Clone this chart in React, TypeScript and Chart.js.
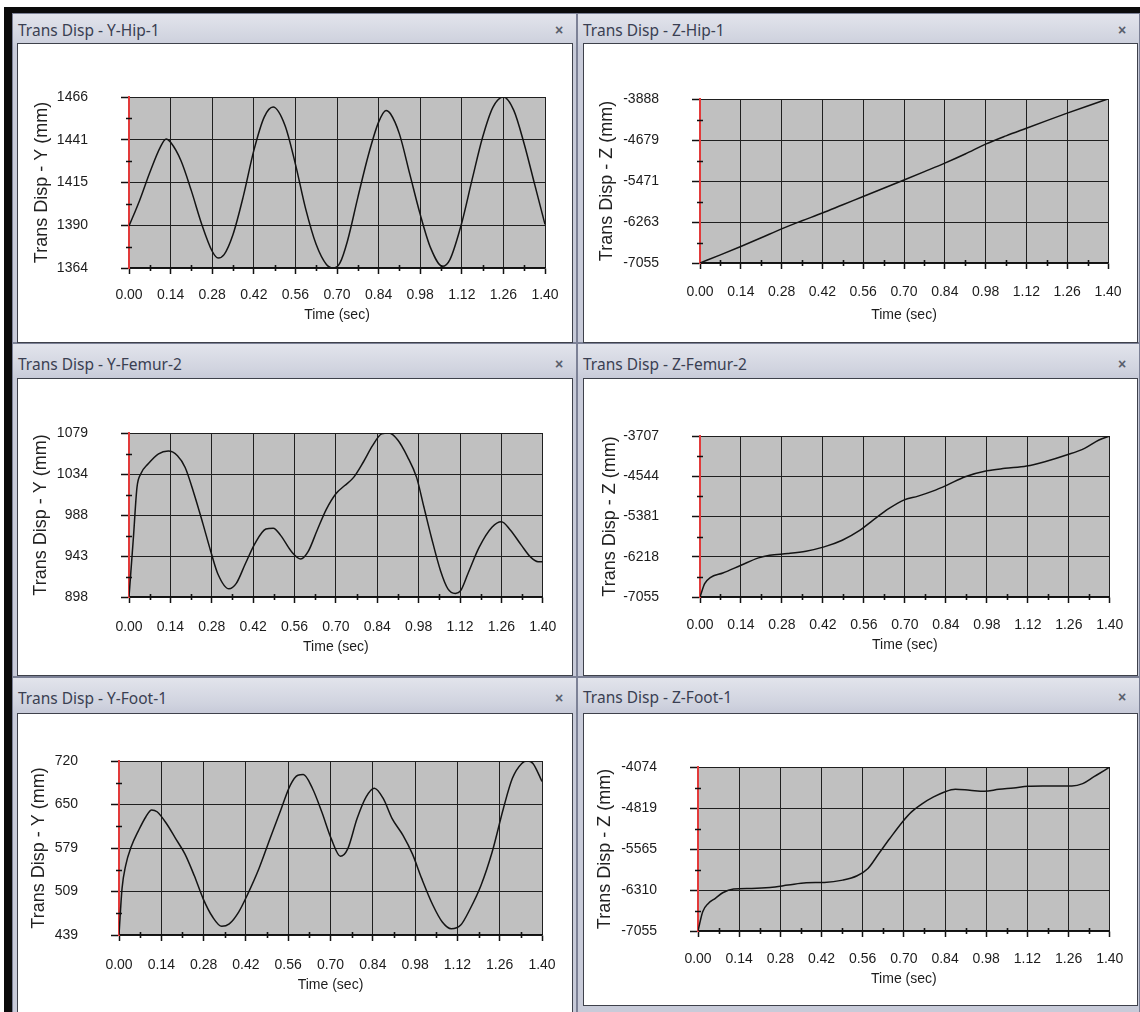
import React, { useEffect, useRef } from 'react';
import { Chart, registerables } from 'chart.js';

Chart.register(...registerables);

// ---------- shared axis data ----------
const xTickLabels = ['0.00', '0.14', '0.28', '0.42', '0.56', '0.70', '0.84', '0.98', '1.12', '1.26', '1.40'];
const xTickValues = xTickLabels.map(Number);
const timeTitle = 'Time (sec)';

// ---------- Y-Hip-1 ----------
const yHipTitle = 'Trans Disp - Y-Hip-1';
const yHipAxisTitle = 'Trans Disp - Y (mm)';
const yHipRange = [1364, 1466];
const yHipTicks = ['1364', '1390', '1415', '1441', '1466'];
const yHipTimes = [0, 0.035, 0.07, 0.105, 0.125, 0.14, 0.175, 0.21, 0.245, 0.28, 0.3, 0.32, 0.35, 0.385, 0.42, 0.455, 0.485, 0.525, 0.56, 0.595, 0.63, 0.665, 0.69, 0.71, 0.735, 0.77, 0.805, 0.84, 0.865, 0.88, 0.91, 0.945, 0.98, 1.015, 1.055, 1.08, 1.12, 1.155, 1.19, 1.225, 1.26, 1.295, 1.33, 1.365, 1.4];
const yHipValues = [1389, 1404, 1421, 1436, 1441, 1439, 1428, 1410, 1390, 1374, 1370, 1372, 1384, 1407, 1434, 1454, 1460, 1449, 1426, 1399, 1378, 1366, 1364, 1367, 1380, 1406, 1431, 1451, 1458, 1456, 1444, 1420, 1396, 1376, 1365, 1369, 1391, 1417, 1442, 1460, 1466, 1458, 1438, 1414, 1390];

// ---------- Z-Hip-1 ----------
const zHipTitle = 'Trans Disp - Z-Hip-1';
const zHipAxisTitle = 'Trans Disp - Z (mm)';
const zHipRange = [-7055, -3888];
const zHipTicks = ['-7055', '-6263', '-5471', '-4679', '-3888'];
const zHipTimes = [0, 0.07, 0.14, 0.21, 0.28, 0.35, 0.42, 0.49, 0.56, 0.63, 0.7, 0.77, 0.84, 0.91, 0.98, 1.05, 1.12, 1.19, 1.26, 1.33, 1.4];
const zHipValues = [-7055, -6898, -6737, -6568, -6395, -6240, -6090, -5930, -5772, -5612, -5452, -5290, -5126, -4950, -4760, -4600, -4452, -4305, -4160, -4022, -3888];

// ---------- Y-Femur-2 ----------
const yFemurTitle = 'Trans Disp - Y-Femur-2';
const yFemurAxisTitle = 'Trans Disp - Y (mm)';
const yFemurRange = [898, 1079];
const yFemurTicks = ['898', '943', '988', '1034', '1079'];
const yFemurTimes = [0, 0.015, 0.027, 0.04, 0.065, 0.1, 0.133, 0.164, 0.19, 0.22, 0.25, 0.276, 0.3, 0.338, 0.363, 0.394, 0.426, 0.463, 0.488, 0.513, 0.55, 0.581, 0.606, 0.637, 0.668, 0.7, 0.73, 0.76, 0.793, 0.824, 0.855, 0.88, 0.91, 0.942, 0.973, 0.998, 1.023, 1.054, 1.079, 1.104, 1.122, 1.147, 1.185, 1.228, 1.26, 1.29, 1.328, 1.359, 1.384, 1.4];
const yFemurValues = [898, 964, 1019, 1034, 1045, 1056, 1059, 1054, 1041, 1012, 979, 949, 924, 907, 913, 935, 957, 973, 974, 966, 948, 940, 948, 972, 995, 1012, 1021, 1030, 1047, 1065, 1078, 1079, 1071, 1053, 1030, 997, 964, 927, 907, 902, 905, 924, 953, 975, 981, 972, 955, 942, 937, 937];

// ---------- Z-Femur-2 ----------
const zFemurTitle = 'Trans Disp - Z-Femur-2';
const zFemurAxisTitle = 'Trans Disp - Z (mm)';
const zFemurRange = [-7055, -3707];
const zFemurTicks = ['-7055', '-6218', '-5381', '-4544', '-3707'];
const zFemurTimes = [0, 0.016, 0.035, 0.078, 0.14, 0.2, 0.238, 0.3, 0.362, 0.424, 0.486, 0.547, 0.584, 0.622, 0.646, 0.696, 0.745, 0.795, 0.844, 0.906, 0.98, 1.042, 1.116, 1.178, 1.252, 1.314, 1.363, 1.4];
const zFemurValues = [-7055, -6777, -6652, -6555, -6395, -6242, -6187, -6152, -6102, -6013, -5874, -5666, -5492, -5318, -5214, -5040, -4957, -4853, -4728, -4554, -4430, -4380, -4332, -4242, -4103, -3964, -3790, -3707];

// ---------- Y-Foot-1 ----------
const yFootTitle = 'Trans Disp - Y-Foot-1';
const yFootAxisTitle = 'Trans Disp - Y (mm)';
const yFootRange = [439, 720];
const yFootTicks = ['439', '509', '579', '650', '720'];
const yFootTimes = [0, 0.01, 0.022, 0.04, 0.065, 0.089, 0.108, 0.126, 0.157, 0.187, 0.218, 0.249, 0.279, 0.31, 0.34, 0.365, 0.396, 0.426, 0.463, 0.5, 0.537, 0.567, 0.592, 0.61, 0.64, 0.671, 0.702, 0.733, 0.757, 0.788, 0.818, 0.845, 0.874, 0.904, 0.94, 0.971, 1.002, 1.039, 1.07, 1.1, 1.131, 1.162, 1.198, 1.235, 1.272, 1.302, 1.333, 1.351, 1.37, 1.4];
const yFootValues = [439, 514, 551, 581, 608, 630, 641, 638, 619, 595, 570, 535, 497, 468, 453, 457, 476, 505, 546, 595, 643, 681, 697, 698, 676, 638, 595, 566, 578, 627, 662, 676, 660, 627, 600, 570, 530, 487, 460, 449, 455, 481, 519, 573, 643, 692, 716, 720, 716, 687];

// ---------- Z-Foot-1 ----------
const zFootTitle = 'Trans Disp - Z-Foot-1';
const zFootAxisTitle = 'Trans Disp - Z (mm)';
const zFootRange = [-7055, -4074];
const zFootTicks = ['-7055', '-6310', '-5565', '-4819', '-4074'];
const zFootTimes = [0, 0.016, 0.035, 0.059, 0.084, 0.121, 0.183, 0.245, 0.306, 0.368, 0.43, 0.492, 0.541, 0.578, 0.615, 0.652, 0.695, 0.726, 0.763, 0.801, 0.838, 0.875, 0.924, 0.974, 1.023, 1.073, 1.122, 1.172, 1.221, 1.271, 1.308, 1.345, 1.382, 1.4];
const zFootValues = [-7055, -6704, -6553, -6462, -6360, -6293, -6281, -6263, -6221, -6178, -6172, -6130, -6051, -5918, -5646, -5374, -5072, -4890, -4739, -4618, -4527, -4479, -4497, -4515, -4479, -4455, -4425, -4419, -4419, -4419, -4376, -4255, -4134, -4074];

// ---------- layout (page pixels) ----------
// panel: frame rect; box: white content rect (border-box); area: plot area [L,T,R,B]
const layouts = [
  { panel: [12, 13, 565, 330], box: [17, 43, 556, 300], area: [129, 97, 545, 268], xLabelY: 295, xTitleY: 315, yTitleX: 42, titleY: 30 },
  { panel: [577, 13, 563, 330], box: [583, 43, 555, 300], area: [700, 99, 1108, 263], xLabelY: 292, xTitleY: 315, yTitleX: 607, titleY: 30 },
  { panel: [12, 343, 565, 334], box: [17, 378, 556, 298], area: [129, 433, 545, 597], xLabelY: 627, xTitleY: 647, yTitleX: 41, titleY: 364 },
  { panel: [577, 343, 563, 334], box: [583, 378, 555, 298], area: [700, 436, 1112, 597], xLabelY: 625, xTitleY: 645, yTitleX: 610, titleY: 364 },
  { panel: [12, 677, 565, 340], box: [17, 713, 556, 305], area: [119, 761, 542, 935], xLabelY: 965, xTitleY: 985, yTitleX: 39, titleY: 698 },
  { panel: [577, 677, 563, 340], box: [583, 713, 555, 293], area: [698, 767, 1110, 931], xLabelY: 959, xTitleY: 979, yTitleX: 605, titleY: 697 },
];

const charts = [
  { title: yHipTitle, yTitle: yHipAxisTitle, range: yHipRange, ticks: yHipTicks, times: yHipTimes, values: yHipValues },
  { title: zHipTitle, yTitle: zHipAxisTitle, range: zHipRange, ticks: zHipTicks, times: zHipTimes, values: zHipValues },
  { title: yFemurTitle, yTitle: yFemurAxisTitle, range: yFemurRange, ticks: yFemurTicks, times: yFemurTimes, values: yFemurValues },
  { title: zFemurTitle, yTitle: zFemurAxisTitle, range: zFemurRange, ticks: zFemurTicks, times: zFemurTimes, values: zFemurValues },
  { title: yFootTitle, yTitle: yFootAxisTitle, range: yFootRange, ticks: yFootTicks, times: yFootTimes, values: yFootValues },
  { title: zFootTitle, yTitle: zFootAxisTitle, range: zFootRange, ticks: zFootTicks, times: zFootTimes, values: zFootValues },
];

const FONT = "'Liberation Sans', Arial, sans-serif";
const TICK_SIZE = 14;
const YTITLE_SIZE = 18;
const GRID = '#1f1f1f';

const plotPlugin = {
  id: 'plotChrome',
  beforeDraw(chart: any) {
    const { ctx, chartArea: a } = chart;
    ctx.save();
    ctx.fillStyle = '#c0c0c0';
    ctx.fillRect(a.left, a.top, a.right - a.left, a.bottom - a.top);
    ctx.restore();
  },
  afterDraw(chart: any) {
    const { ctx, chartArea: a, scales } = chart;
    const x = scales.x;
    const y = scales.y;
    ctx.save();
    ctx.strokeStyle = '#111';
    ctx.lineWidth = 1.6;
    ctx.beginPath();
    for (let i = 0; i < xTickValues.length - 1; i++) {
      const px = Math.round(x.getPixelForValue((xTickValues[i] + xTickValues[i + 1]) / 2)) + 0.5;
      ctx.moveTo(px, a.bottom - 3);
      ctx.lineTo(px, a.bottom + 3);
    }
    const yt = y.ticks.map((t: any) => t.value);
    for (let i = 0; i < yt.length - 1; i++) {
      const py = Math.round(y.getPixelForValue((yt[i] + yt[i + 1]) / 2)) + 0.5;
      ctx.moveTo(a.left - 3, py);
      ctx.lineTo(a.left + 3, py);
    }
    ctx.stroke();
    ctx.restore();
  },
};

function ChartPanel({ cfg, lay }: any) {
  const ref = useRef<HTMLCanvasElement | null>(null);
  const [bx, by, bw, bh] = lay.box;
  const cx = bx + 1;
  const cy = by + 1;
  const cw = bw - 2;
  const ch = bh - 2;

  useEffect(() => {
    if (!ref.current) return;
    const [L, T, R, B] = lay.area;
    const tickLine = (TICK_SIZE * 1.2) / 2;
    const xH = lay.xTitleY + tickLine - B;
    const padBottom = Math.max(0, cy + ch - (B + xH));
    const xPad = lay.xLabelY - B - 6 - tickLine;
    const yTitlePad = lay.yTitleX - cx - (YTITLE_SIZE * 1.2) / 2;
    const yVals = cfg.ticks.map((_: string, i: number) => cfg.range[0] + (i * (cfg.range[1] - cfg.range[0])) / (cfg.ticks.length - 1));

    const chart = new Chart(ref.current, {
      type: 'line',
      data: {
        datasets: [
          {
            data: cfg.times.map((t: number, i: number) => ({ x: t, y: cfg.values[i] })),
            borderColor: '#141414',
            borderWidth: 1.5,
            pointRadius: 0,
            fill: false,
            cubicInterpolationMode: 'monotone',
          },
        ],
      },
      options: {
        animation: false,
        responsive: false,
        maintainAspectRatio: false,
        events: [],
        layout: { padding: { left: 0, top: T - cy, right: cx + cw - R, bottom: padBottom } },
        plugins: { legend: { display: false }, tooltip: { enabled: false } },
        scales: {
          x: {
            type: 'linear',
            min: xTickValues[0],
            max: xTickValues[xTickValues.length - 1],
            afterBuildTicks: (s: any) => {
              s.ticks = xTickValues.map((v) => ({ value: v }));
            },
            afterFit: (s: any) => {
              s.height = xH;
            },
            ticks: {
              autoSkip: false,
              maxRotation: 0,
              padding: xPad,
              color: '#1c1c1c',
              font: { family: FONT, size: TICK_SIZE },
              callback: (_v: any, i: number) => xTickLabels[i],
            },
            grid: {
              color: (c: any) => (c.index === 0 ? 'rgba(0,0,0,0)' : GRID),
              lineWidth: 1,
              tickLength: 6,
              tickColor: '#111',
              tickWidth: 1.5,
            },
            border: { color: '#111', width: 1.5 },
            title: { display: true, text: timeTitle, color: '#1c1c1c', font: { family: FONT, size: TICK_SIZE }, padding: 0 },
          },
          y: {
            type: 'linear',
            min: cfg.range[0],
            max: cfg.range[1],
            afterBuildTicks: (s: any) => {
              s.ticks = yVals.map((v: number) => ({ value: v }));
            },
            afterFit: (s: any) => {
              s.width = L - cx;
            },
            ticks: {
              autoSkip: false,
              padding: 33,
              color: '#1c1c1c',
              font: { family: FONT, size: TICK_SIZE },
              callback: (_v: any, i: number) => cfg.ticks[i],
            },
            grid: { color: GRID, lineWidth: 1, tickLength: 8, tickColor: '#111', tickWidth: 1.5 },
            border: { color: '#e23a3a', width: 2 },
            title: {
              display: true,
              text: cfg.yTitle,
              color: '#222',
              font: { family: FONT, size: YTITLE_SIZE },
              padding: { top: yTitlePad, bottom: 0 },
            },
          },
        },
      },
      plugins: [plotPlugin],
    } as any);
    return () => chart.destroy();
  }, []);

  const [px, py, pw, ph] = lay.panel;
  return (
    <>
      <div
        style={{
          position: 'absolute',
          left: px,
          top: py,
          width: pw,
          height: ph,
          boxSizing: 'border-box',
          border: '1px solid #7c8196',
          background: 'linear-gradient(#e2e4ec 0px, #d0d3df 26px, #c8cbd9 34px, #c8cbd9 100%)',
        }}
      />
      <div
        style={{
          position: 'absolute',
          left: px + 6,
          top: lay.titleY - 11,
          height: 22,
          lineHeight: '22px',
          fontFamily: "'Noto Sans', 'Open Sans', sans-serif",
          fontSize: 15.5,
          color: '#3a3f52',
          whiteSpace: 'nowrap',
        }}
      >
        {cfg.title}
      </div>
      <div
        style={{
          position: 'absolute',
          left: px + pw - 22,
          top: lay.titleY - 11,
          height: 22,
          lineHeight: '22px',
          fontFamily: FONT,
          fontSize: 14,
          fontWeight: 'bold',
          color: '#5a5e6c',
        }}
      >
        ×
      </div>
      <div
        style={{
          position: 'absolute',
          left: bx,
          top: by,
          width: bw,
          height: bh,
          boxSizing: 'border-box',
          border: '1px solid #3e414b',
          background: '#ffffff',
        }}
      />
      <canvas
        ref={ref}
        width={cw}
        height={ch}
        style={{ position: 'absolute', left: cx, top: cy, width: cw, height: ch }}
      />
    </>
  );
}

export default function App() {
  return (
    <div
      style={{
        position: 'fixed',
        left: 0,
        top: 0,
        width: 1140,
        height: 1012,
        background: '#ffffff',
        overflow: 'hidden',
      }}
    >
      <div style={{ position: 'absolute', left: 4, top: 7, width: 1136, height: 1005, background: '#0b0b0b' }} />
      {charts.map((c, i) => (
        <ChartPanel key={i} cfg={c} lay={layouts[i]} />
      ))}
    </div>
  );
}
